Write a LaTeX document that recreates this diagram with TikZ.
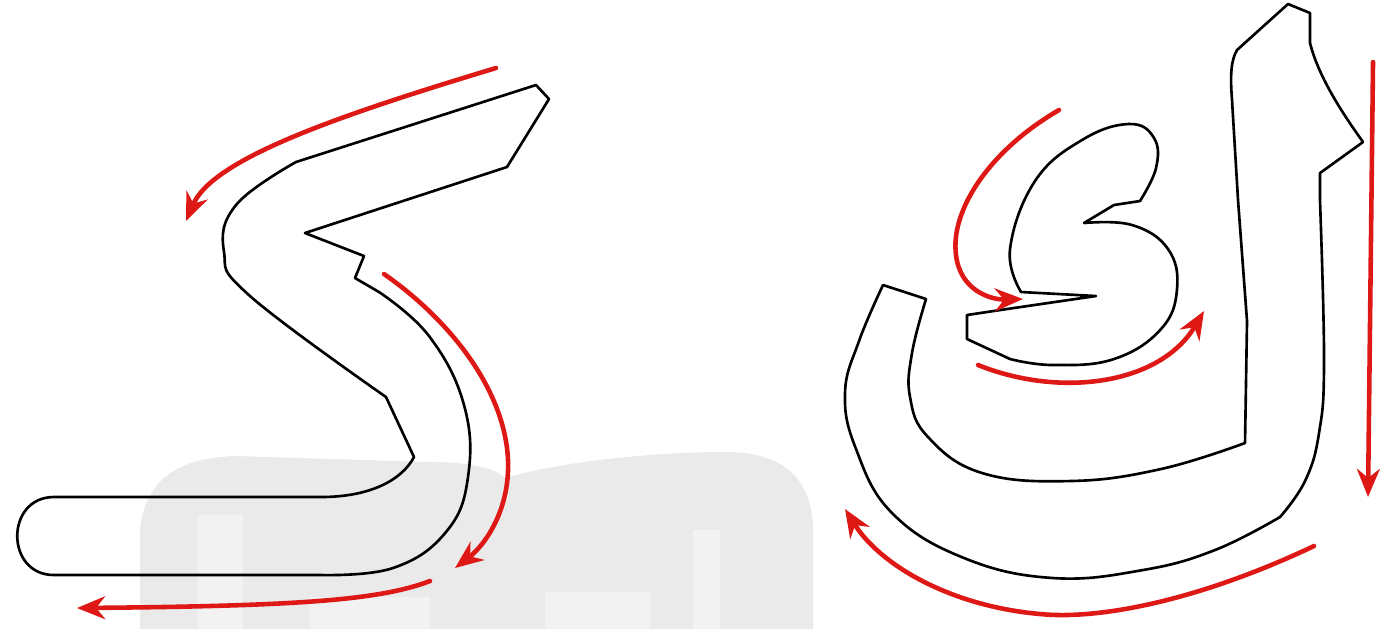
\documentclass[tikz,border=0pt]{standalone}
\usetikzlibrary{arrows.meta}

\definecolor{strokered}{RGB}{222,24,20}
\definecolor{markgray}{RGB}{234,234,234}
\definecolor{marklight}{RGB}{242,242,242}

\begin{document}
\begin{tikzpicture}[
    x=0.01cm, y=-0.01cm,
    outline/.style={draw=black, line width=0.75pt, line join=round},
    strokearrow/.style={-{Stealth[length=8pt, width=6.5pt]}, draw=strokered,
        line width=1.3pt, line cap=round},
    bgmark/.style={fill=markgray, draw=none},
    bglite/.style={fill=marklight, draw=none}
]
\useasboundingbox (0,0) rectangle (1383,629);

%% ─── BACKGROUND MARK ─────────────────────────────────────────
\path[bgmark] (140,629) -- (140,530) .. controls (145,478) and (180,458) .. (235,456)
    -- (430,462) .. controls (470,462) and (495,468) .. (505,478)
    .. controls (560,462) and (650,452) .. (725,452)
    .. controls (780,452) and (810,475) .. (813,525) -- (813,629) -- cycle;
\path[bglite] (198,515) rectangle (243,629);
\path[bglite] (310,597) rectangle (430,629);
\path[bglite] (545,592) rectangle (650,629);
\path[bglite] (693,530) rectangle (720,629);

%% ─── LEFT LETTER ─────────────────────────────────────────────
\draw[outline] (536,85) -- (549,99) -- (507,167) -- (305,233) -- (364,256) -- (355,278)
    -- plot[smooth, tension=0.7] coordinates {(379,292) (429,336) (464,405) (468,477)
        (446,532) (393,568) (321,575)}
    -- (54,575) .. controls (5,575) and (5,497) .. (54,497)
    -- (321,497) .. controls (370,497) and (402,480) .. (414,457)
    -- plot[smooth, tension=0.7] coordinates {(386,397) (250,296) (224,252)
        (236,205) (296,162)}
    -- cycle;

% strokes of the left letter
\draw[strokearrow] (496,68) .. controls (330,118) and (212,160) .. (186,221);
\draw[strokearrow] (384,274) .. controls (450,320) and (505,390) .. (508,460)
    .. controls (510,510) and (485,545) .. (455,568);
\draw[strokearrow] (430,581) .. controls (380,600) and (300,606) .. (77,608);

%% ─── RIGHT LETTER ────────────────────────────────────────────
\draw[outline] (1288,4) -- (1310,13) -- (1310,43)
    .. controls (1318,75) and (1340,110) .. (1363,142)
    -- (1320,173) -- (1320,201)
    -- plot[smooth, tension=0.7] coordinates {(1320,201) (1324,361) (1319,433) (1305,481) (1280,517)}
    -- plot[smooth, tension=0.7] coordinates {(1280,517) (1215,550) (1143,570) (1053,578) (964,558)
        (892,513) (856,449) (845,393) (859,341) (883,285)}
    -- (926,299)
    -- plot[smooth, tension=0.7] coordinates {(926,299) (912,353) (910,397) (928,437) (982,473)
        (1071,481) (1161,469) (1245,443)}
    -- (1247,321) -- (1238,200) -- (1232,100)
    .. controls (1230,75) and (1231,60) .. (1237,50) -- cycle;

% inner mark of the right letter
\draw[outline] (1096,296) -- (1021,292)
    -- plot[smooth, tension=0.7] coordinates {(1021,292) (1010,249) (1035,181) (1082,140)
        (1129,124) (1154,138) (1156,168) (1140,201)}
    -- (1114,205) -- (1084,223)
    -- plot[smooth, tension=0.7] coordinates {(1084,223) (1132,225) (1168,249) (1177,289)
        (1161,329) (1114,359) (1053,365) (1010,359)}
    -- (967,339) -- (967,315) -- (1007,309) -- cycle;

% strokes of the right letter
\draw[strokearrow] (1059,110) .. controls (990,150) and (950,210) .. (956,255)
    .. controls (960,290) and (990,300) .. (1023,299);
\draw[strokearrow] (978,365) .. controls (1060,398) and (1160,385) .. (1204,311);
\draw[strokearrow] (1373,62) -- (1368,497);
\draw[strokearrow] (1314,546) .. controls (1200,600) and (1100,620) .. (1040,614)
    .. controls (950,606) and (880,565) .. (845,509);

\end{tikzpicture}
\end{document}
